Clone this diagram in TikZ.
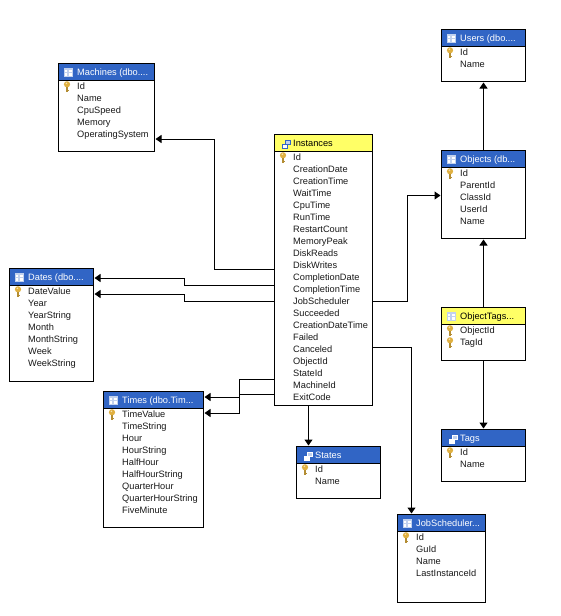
\documentclass[tikz,border=0pt]{standalone}
\usepackage{fontspec}
\setmainfont{Liberation Sans}
\usetikzlibrary{arrows.meta}
\definecolor{hblue}{HTML}{3165C5}
\definecolor{hyellow}{HTML}{FFFF66}
\definecolor{keygold}{HTML}{E0B040}
\tikzset{
  tblbox/.style={draw=black,line width=1pt,fill=white,inner sep=0pt,outer sep=0pt,anchor=north west},
  headbox/.style={draw=black,line width=1pt,inner sep=0pt,outer sep=0pt,anchor=north west},
  fieldtext/.style={font=\fontsize{9.25}{12}\selectfont,inner sep=0pt,anchor=base west,text=black!90},
  hbluetext/.style={text=white},
  hyellowtext/.style={text=black},
  conn/.style={draw=black,line width=1pt,-{Triangle[length=6pt,width=8pt]},shorten >=1pt},
}
% [number of key rows]{name}{left}{top}{right}{bottom}{header colour}{title}{rows}
\newcommand\dbtable[9][1]{%
  \pgfmathsetlengthmacro\tw{#5-#3}%
  \pgfmathsetlengthmacro\th{#6-#4}%
  \node[tblbox,minimum width=\tw,minimum height=\th] (#2) at (#3,#4) {};
  \node[headbox,fill=#7,minimum width=\tw,minimum height=17pt] (#2-head) at (#3,#4) {};
  \node[fieldtext,#7text] (#2-title) at (#3+18.5,#4+12.3) {#8};
  \foreach \fld [count=\i] in {#9} {
    \node[fieldtext] (#2-f\i) at (#3+18.5,#4+14.3+12*\i) {\fld};
    \ifnum\i>#1\relax\else
      \begin{scope}[shift={(#3+8.5,#4+11+12*\i)}]
        \fill[keygold] (0,-2.2) circle (3.1pt);
        \fill[white!60!keygold] (-0.6,-3.2) circle (0.9pt);
        \fill[keygold!80!black] (-1.1,0) rectangle (1.1,5.4);
        \fill[keygold!80!black] (1.1,3) rectangle (2,4.2);
      \end{scope}
    \fi
  }
}
\newcommand\tblicon[1]{%
  \begin{scope}[shift={(#1.north west)},xshift=5pt,yshift=-4pt]
    \fill[white!70!hblue] (0,0) rectangle (9pt,-9pt);
    \fill[white] (1pt,-2pt) rectangle (3.5pt,-4.5pt);
    \fill[white] (5pt,-2pt) rectangle (8pt,-4.5pt);
    \fill[white] (1pt,-5.5pt) rectangle (3.5pt,-8pt);
    \fill[white] (5pt,-5.5pt) rectangle (8pt,-8pt);
  \end{scope}
}
\newcommand\viewicon[2]{%
  \begin{scope}[shift={(#1.north west)},xshift=5pt,yshift=-4pt]
    \fill[#2] (2pt,-5pt) rectangle (8pt,-10pt);
    \fill[white] (3pt,-6pt) rectangle (7pt,-9pt);
    \fill[#2] (5pt,-1pt) rectangle (11pt,-6pt);
    \fill[white!70!hblue] (6pt,-2pt) rectangle (10pt,-5pt);
  \end{scope}
}
\begin{document}
\begin{tikzpicture}[x=1pt,y=-1pt]
\useasboundingbox (0,0) rectangle (560,616);

\dbtable{machines}{58.5}{63.5}{154.5}{151}{hblue}{Machines (dbo....}{Id,Name,CpuSpeed,Memory,OperatingSystem}
\tblicon{machines}
\dbtable{dates}{9.5}{268.5}{93.5}{381}{hblue}{Dates (dbo....}{DateValue,Year,YearString,Month,MonthString,Week,WeekString}
\tblicon{dates}
\dbtable{times}{103.5}{391.5}{203.5}{527}{hblue}{Times (dbo.Tim...}{TimeValue,TimeString,Hour,HourString,HalfHour,HalfHourString,QuarterHour,QuarterHourString,FiveMinute}
\tblicon{times}
\dbtable{instances}{274.5}{134.5}{372.5}{405}{hyellow}{Instances}{Id,CreationDate,CreationTime,WaitTime,CpuTime,RunTime,RestartCount,MemoryPeak,DiskReads,DiskWrites,CompletionDate,CompletionTime,JobScheduler,Succeeded,CreationDateTime,Failed,Canceled,ObjectId,StateId,MachineId,ExitCode}
\viewicon{instances}{hblue}
\dbtable{states}{296.5}{446.5}{380.5}{498}{hblue}{States}{Id,Name}
\viewicon{states}{white}
\dbtable{users}{441.5}{29.5}{525.5}{81.5}{hblue}{Users (dbo....}{Id,Name}
\tblicon{users}
\dbtable{objects}{441.5}{150.5}{525.5}{238.5}{hblue}{Objects (db...}{Id,ParentId,ClassId,UserId,Name}
\tblicon{objects}
\dbtable[2]{objecttags}{441.5}{307.5}{525.5}{360.5}{hyellow}{ObjectTags...}{ObjectId,TagId}
\tblicon{objecttags}
\dbtable{tags}{441.5}{429.5}{525.5}{481.5}{hblue}{Tags}{Id,Name}
\viewicon{tags}{white}
\dbtable{jobscheduler}{397.5}{514.5}{485.5}{602.5}{hblue}{JobScheduler...}{Id,GuId,Name,LastInstanceId}
\tblicon{jobscheduler}

% bends of the connectors
\coordinate (mA) at (214.5,269.5);
\coordinate (mB) at (214.5,139);
\coordinate (dA) at (184.5,285);
\coordinate (dB) at (184.5,278);
\coordinate (eA) at (184.5,301.5);
\coordinate (eB) at (184.5,294);
\coordinate (tA) at (239.5,379.5);
\coordinate (tB) at (239.5,413);
\coordinate (uA) at (239.5,394.5);
\coordinate (uB) at (239.5,397);
\coordinate (oA) at (407.5,301);
\coordinate (oB) at (407.5,195.5);
\coordinate (jA) at (411.5,347);
\coordinate (sA) at (308.5,405);

\draw[conn] (instances.west |- mA) -- (mA) -- (mB) -- (machines.east |- mB);
\draw[conn] (instances.west |- dA) -- (dA) -- (dB) -- (dates.east |- dB);
\draw[conn] (instances.west |- eA) -- (eA) -- (eB) -- (dates.east |- eB);
\draw[conn] (instances.west |- tA) -- (tA) -- (tB) -- (times.east |- tB);
\draw[conn] (instances.west |- uA) -- (uA) -- (uB) -- (times.east |- uB);
\draw[conn] (instances.east |- oA) -- (oA) -- (oB) -- (objects.west |- oB);
\draw[conn] (instances.east |- jA) -- (jA) -- (jobscheduler.north -| jA);
\draw[conn] (instances.south -| sA) -- (states.north -| sA);
\draw[conn] (objects.north) -- (users.south);
\draw[conn] (objecttags.north) -- (objects.south);
\draw[conn] (objecttags.south) -- (tags.north);
\end{tikzpicture}
\end{document}
